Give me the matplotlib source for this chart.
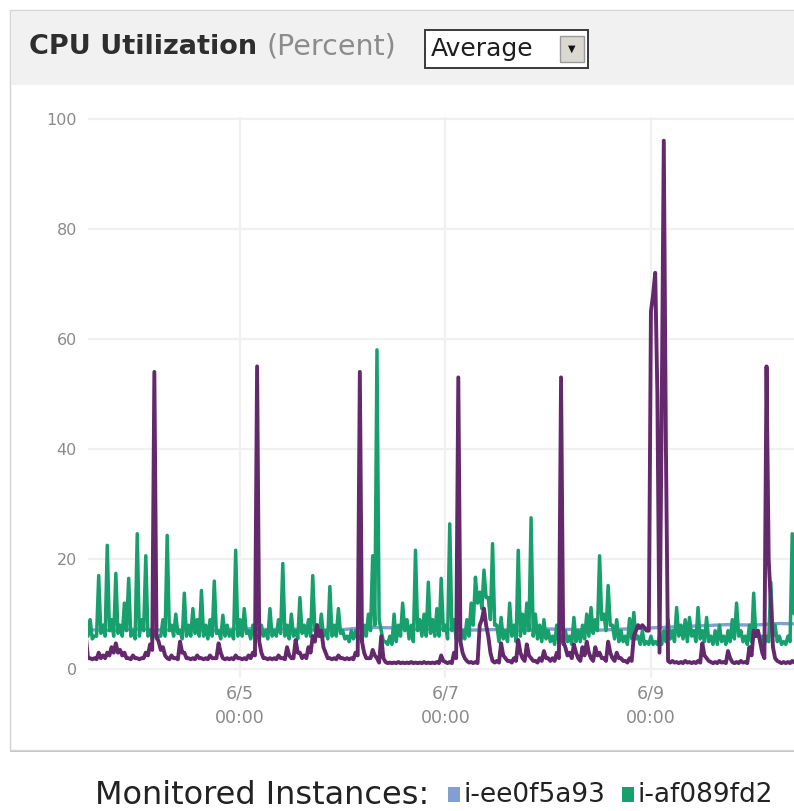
import matplotlib
matplotlib.use("Agg")
import matplotlib.pyplot as plt
import matplotlib.dates as mdates
from matplotlib.patches import Rectangle
from matplotlib.ticker import FuncFormatter
from datetime import datetime, timedelta

# ---------------- data ----------------
start_time = datetime(2012, 6, 3, 12, 0)   # first sample (6/3 12:00); samples every 30 min

# i-af089fd2: value on the hour
green_values = [
    10, 9, 6, 17, 8, 22.5, 9, 17.4, 8, 12, 16.5, 7,
    24.6, 9, 20.6, 7, 7, 6, 9, 24.3, 8, 10, 7, 13.8,
    8, 11, 9, 14.3, 8, 9, 16, 7, 9.8, 8, 7, 21.6,
    9, 11, 7, 8, 6, 8, 7, 11, 7, 9, 19.2, 8,
    10, 7, 13, 8, 9, 17, 8, 10, 7, 15, 8, 11,
    7, 6, 7, 7, 6, 8, 10, 20.6, 58, 7, 5, 6,
    10, 8, 12, 9, 8, 21.6, 9, 10, 15.8, 9, 11, 16.5,
    8, 26.4, 9, 6, 7, 9, 12, 16.7, 14, 18, 13, 22.8,
    8, 9.4, 7, 12, 8, 21.6, 10, 12, 27.5, 10, 8, 9,
    7, 6, 8, 6, 7, 6, 9.4, 7, 8, 10, 11.2, 9,
    20.6, 10, 15.2, 8, 9, 7, 6, 9.2, 10.3, 6, 7, 5,
    6, 5, 6, 7, 9, 7, 11.2, 8, 9, 9.4, 7, 11.2,
    7, 9.4, 6, 7, 8, 6, 7, 9, 12, 7, 6, 8,
    13.8, 7, 6, 6, 15.8, 8, 6, 5, 6, 24.6, 24,
]
# i-af089fd2: value on the half hour
green_half = [
    6, 5.5, 6, 6.5, 6, 7, 6, 6.5, 6, 7, 6, 5.5,
    6, 7, 6, 5.5, 5.5, 6, 6, 7, 6, 6.5, 5.5, 6,
    6, 6.5, 6, 6, 5.5, 6, 6.5, 5.5, 6, 6, 5.5, 6,
    6, 6.5, 5.5, 6, 5.5, 6, 5.5, 6, 6, 6.5, 6, 5.5,
    6, 5.5, 6.5, 6, 6, 7, 6, 6, 5.5, 6, 6, 6.5,
    5.5, 5, 5.5, 5.5, 5, 6, 7, 8, 9, 5, 4.5, 4.5,
    5, 6, 7, 5.5, 5, 7, 6, 6, 6.5, 6, 6, 7,
    5.5, 7, 5.5, 5, 5.5, 6, 8, 12, 11, 13, 9, 8,
    5, 5.5, 5, 6, 5, 6, 6.5, 7, 6, 5.5, 5, 5.5,
    5, 4.5, 5, 4.5, 5, 4.5, 5, 5, 5.5, 6, 6.5, 7,
    9, 7, 8, 5.5, 5, 5, 4.5, 5.5, 5.5, 4.5, 4.5, 4.5,
    4.5, 4.5, 4.5, 5, 5.5, 5, 6, 5.5, 5, 6, 5, 5.5,
    5, 5, 4.5, 4.5, 5, 4.5, 5, 5.5, 6, 5, 4.5, 5,
    6, 5, 4.5, 5, 6, 5, 4.5, 4.5, 5, 10, 8,
]

# third instance (purple): value on the hour
purple_values = [
    6, 2, 2, 3, 2.5, 3, 4, 4.7, 3.5, 3, 2, 2.5,
    2, 2, 3, 4.5, 54, 5, 4, 2, 2.5, 2, 5, 3,
    2, 2, 2.5, 2, 2, 2.5, 2, 4.7, 2, 2, 2, 2.5,
    2, 2, 2.5, 3, 55, 3, 2, 2, 2, 2.5, 2, 4,
    2, 5.3, 3, 2.5, 4, 6, 8, 7, 3, 2, 2, 2.5,
    2, 2, 2, 3, 54, 3, 2, 3.5, 2, 6, 1.3, 1.2,
    1.2, 1.3, 1.2, 1.2, 1.3, 1.2, 1.2, 1.3, 1.2, 1.2, 1.3, 2.5,
    1.3, 1.3, 3, 53, 3, 1.5, 1.3, 1.3, 8, 11, 6, 1.5,
    1.5, 4.7, 2, 1.5, 2, 5.3, 2, 4.5, 2, 1.5, 2, 3.3,
    2, 2, 3, 53, 4, 3, 4.5, 2, 4, 5, 2, 4,
    3, 2, 5, 2, 3, 2, 1.5, 2, 6, 8, 8, 7,
    65, 72, 3, 96, 1.5, 1.5, 1.3, 1.3, 1.5, 1.3, 1.3, 1.5,
    4.7, 2, 1.3, 1.3, 1.5, 1.3, 3.3, 1.3, 1.3, 1.5, 1.3, 4,
    7, 7, 3, 55, 12, 2, 1.3, 1.3, 1.3, 1.5, 1.3,
]
# third instance (purple): value on the half hour
purple_half = [
    2, 1.8, 1.8, 2, 2, 2.5, 3, 3, 2.5, 2, 1.8, 2,
    1.8, 2, 2.5, 3.5, 6, 3.5, 2.5, 1.8, 2, 1.8, 3, 2,
    1.8, 1.8, 2, 1.8, 1.8, 2, 2, 3, 1.8, 1.8, 1.8, 2,
    1.8, 1.8, 2, 2.5, 5, 2, 1.8, 1.8, 1.8, 2, 1.8, 2.5,
    2, 3, 2, 2, 3, 5, 6, 4, 2, 1.8, 1.8, 2,
    1.8, 1.8, 1.8, 2.5, 5, 2, 2, 2.5, 1.2, 2, 1.1, 1.1,
    1.1, 1.1, 1.1, 1.1, 1.1, 1.1, 1.1, 1.1, 1.1, 1.1, 1.1, 1.5,
    1.1, 1.1, 2, 5, 2, 1.2, 1.1, 1.1, 9, 8, 3, 1.2,
    1.2, 2.5, 1.5, 1.2, 1.5, 3, 1.5, 2.5, 1.5, 1.2, 1.5, 2,
    1.5, 1.5, 2, 5, 2.5, 2, 3, 1.5, 2.5, 3, 1.5, 2.5,
    2, 1.5, 3, 1.5, 2, 1.5, 1.2, 1.5, 7, 7.5, 7.5, 7,
    68, 50, 45, 40, 1.2, 1.2, 1.1, 1.1, 1.2, 1.1, 1.1, 1.2,
    2.5, 1.5, 1.1, 1.1, 1.2, 1.1, 2, 1.1, 1.1, 1.2, 1.1, 2.5,
    6, 5, 2, 20, 4, 1.5, 1.1, 1.1, 1.1, 1.2, 1.1,
]

blue_step_hours = 6
blue_values = [  # i-ee0f5a93, every 6 hours
    7.2, 7.0, 7.3, 7.1, 7.2, 7.0, 7.4, 7.2, 7.3, 7.1, 7.2, 7.6, 7.5, 7.2, 7.3,
    7.1, 7.2, 7.0, 7.3, 7.2, 7.1, 7.3, 7.5, 7.7, 7.9, 8.1, 8.0, 8.3, 8.2,
]

y_ticks = [0, 20, 40, 60, 80, 100]
x_tick_times = [datetime(2012, 6, 5), datetime(2012, 6, 7), datetime(2012, 6, 9)]
x_range = (datetime(2012, 6, 3, 12, 30), datetime(2012, 6, 10, 9, 25))

legend_title = "Monitored Instances:"
legend_names = ["i-ee0f5a93", "i-af089fd2"]
title_main = "CPU Utilization"
title_unit = "(Percent)"
stat_label = "Average"

# ---------------- styling ----------------
W, H = 794, 811
C_PURPLE = "#64296c"
C_GREEN = "#17a06e"
C_BLUE = "#819fd0"
C_TICK = "#8a8a8a"

plt.rcParams["font.family"] = ["DejaVu Sans"]
fig = plt.figure(figsize=(W / 100, H / 100), dpi=100)
fig.patch.set_facecolor("white")


def fx(px):
    return px / W


def fy(py):
    return 1 - py / H


# panel frame and header band
fig.add_artist(Rectangle((fx(10), fy(752)), fx(800), 2 / H, transform=fig.transFigure,
                         facecolor="#c4c4c4", edgecolor="none", zorder=0))
fig.add_artist(Rectangle((fx(10), fy(750)), fx(800), (750 - 10) / H, transform=fig.transFigure,
                         facecolor="white", edgecolor="#d4d4d4", lw=1, zorder=0))
fig.add_artist(Rectangle((fx(11), fy(85)), fx(800), (85 - 11) / H, transform=fig.transFigure,
                         facecolor="#f1f1f1", edgecolor="none", zorder=0))

# ---------------- axes ----------------
ax = fig.add_axes([fx(88), fy(678), fx(794 - 88), (678 - 117) / H])


def interleave(on_hour, on_half):
    t, v = [], []
    for i, (a, b) in enumerate(zip(on_hour, on_half)):
        t += [start_time + timedelta(hours=i), start_time + timedelta(hours=i + 0.5)]
        v += [a, b]
    return t, v


g_t, g_v = interleave(green_values, green_half)
p_t, p_v = interleave(purple_values, purple_half)
blue_times = [start_time + timedelta(hours=blue_step_hours * i) for i in range(len(blue_values))]

ax.plot(blue_times, blue_values, color=C_BLUE, lw=2.4, zorder=2)
ax.plot(g_t, g_v, color=C_GREEN, lw=2.5, zorder=3)
ax.plot(p_t, p_v, color=C_PURPLE, lw=2.8, zorder=4)

ax.set_xlim(*x_range)
ax.set_ylim(-1.6, 100.3)
ax.set_yticks(y_ticks)
ax.set_xticks(x_tick_times)
ax.xaxis.set_major_formatter(FuncFormatter(
    lambda v, p: "{d.month}/{d.day}\n{d:%H:%M}".format(d=mdates.num2date(v))))
for s in ax.spines.values():
    s.set_visible(False)
ax.tick_params(axis="both", length=0, colors=C_TICK)
ax.tick_params(axis="y", pad=8, labelsize=11.5)
ax.tick_params(axis="x", pad=5, labelsize=12.5)
for lab in ax.get_xticklabels():
    lab.set_linespacing(1.45)
ax.grid(True, color="#f0f0f0", lw=1.6, zorder=0)
ax.set_axisbelow(True)

# ---------------- header ----------------
renderer = fig.canvas.get_renderer()


def chain(x_px, y_px, parts, gap=6):
    x = x_px
    for txt, kw in parts:
        t = fig.text(fx(x), fy(y_px), txt, ha="left", va="center", **kw)
        bb = t.get_window_extent(renderer)
        x = bb.x1 + gap
    return x


chain(29, 47, [
    (title_main, dict(fontsize=19.5, fontweight="bold", color="#2e2e2e")),
    (title_unit, dict(fontsize=20.5, color="#8c8c8c")),
], gap=9)

# dropdown
fig.add_artist(Rectangle((fx(425), fy(68)), fx(588 - 425), (68 - 30) / H, transform=fig.transFigure,
                         facecolor="white", edgecolor="#3a3a3a", lw=1.4))
fig.text(fx(431), fy(49), stat_label, ha="left", va="center", fontsize=18, color="#1e1e1e")
fig.add_artist(Rectangle((fx(560), fy(62)), fx(584 - 560), (62 - 36) / H, transform=fig.transFigure,
                         facecolor="#d9d9d2", edgecolor="#9a9a9a", lw=1))
fig.text(fx(572), fy(49), "\u25BC", ha="center", va="center", fontsize=7, color="#111111")

# ---------------- legend ----------------
ly = 795
fig.text(fx(95), fy(ly), legend_title, ha="left", va="center", fontsize=23, color="#222222")
for name, col, sx in zip(legend_names, [C_BLUE, C_GREEN], [448, 622]):
    fig.add_artist(Rectangle((fx(sx), fy(ly + 7)), 12 / W, 15 / H, transform=fig.transFigure,
                             facecolor=col, edgecolor="none"))
    fig.text(fx(sx + 15), fy(ly), name, ha="left", va="center", fontsize=19, color="#222222")

fig.savefig("out.png", dpi=100, facecolor="white")
